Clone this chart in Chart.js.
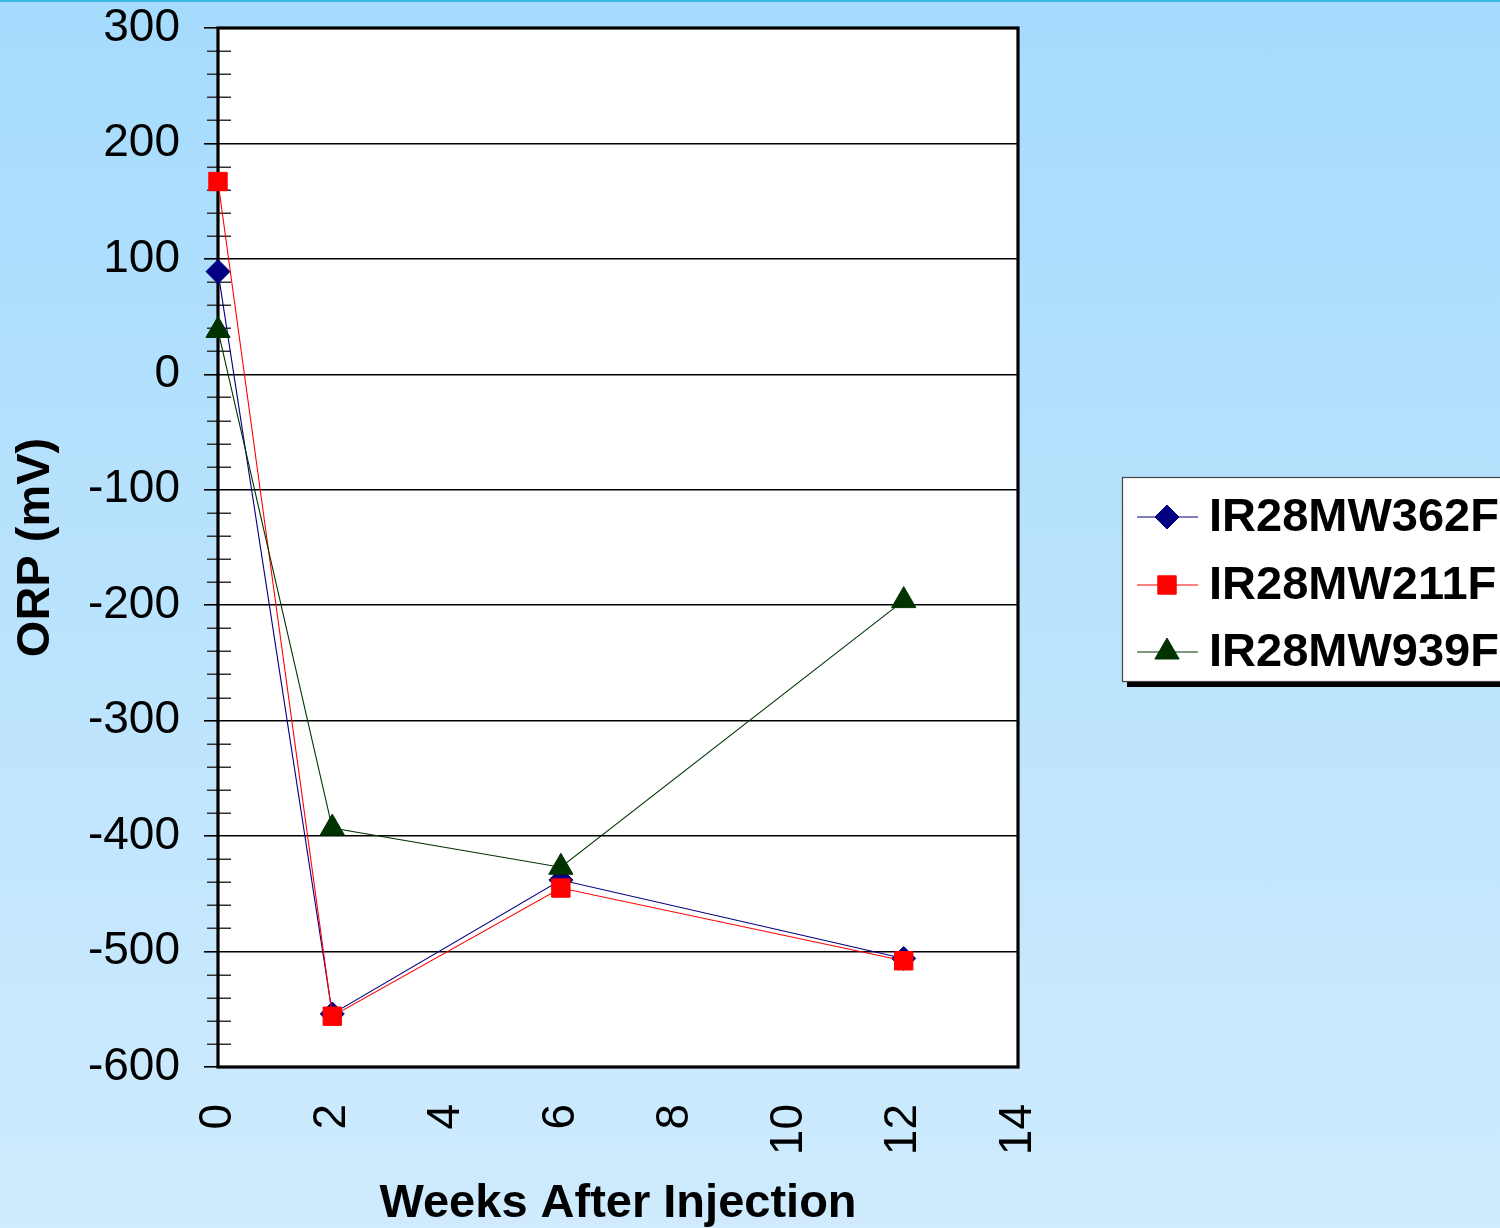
<!DOCTYPE html>
<html>
<head>
<meta charset="utf-8">
<title>ORP (mV) vs Weeks After Injection</title>
<script src="https://cdn.jsdelivr.net/npm/chart.js@4/dist/chart.umd.min.js"></script>
<style>
  html, body { margin: 0; padding: 0; }
  body {
    width: 1500px; height: 1228px; overflow: hidden;
    background: linear-gradient(to bottom, #a5dbfd 0%, #cfebfd 100%);
  }
  #wrap { position: relative; width: 1500px; height: 1228px; }
  #topline { position: absolute; left: 0; top: 0; width: 1500px; height: 2px; background: #3db6e6; }
  canvas { display: block; }
</style>
</head>
<body>
<div id="wrap"><canvas id="c" width="1500" height="1228"></canvas><div id="topline"></div></div>
<script>
// Weeks after injection at which ORP was measured
const weeks = [0, 2, 6, 12];

// ORP readings (mV) for each monitoring well
const mw362 = [89, -554, -438, -506];
const mw211 = [167, -556, -445, -508];
const mw939 = [38, -393, -427, -196];

const seriesNames = ['IR28MW362F', 'IR28MW211F', 'IR28MW939F'];

// Axis ranges and tick spacing
const yMin = -600, yMax = 300, yMajor = 100, yMinor = 20;
const xMin = 0, xMax = 14, xStep = 2;

const FONT = '"Liberation Sans", Arial, Helvetica, sans-serif';

function pts(vals) { return weeks.map((w, i) => ({ x: w, y: vals[i] })); }

// White plotting area
const plotBackground = {
  id: 'plotBackground',
  beforeDraw(chart) {
    const { ctx, chartArea: a } = chart;
    ctx.save();
    ctx.fillStyle = '#fff';
    ctx.fillRect(a.left, a.top, a.right - a.left, a.bottom - a.top);
    ctx.restore();
  }
};

// Black frame around the plotting area and the small minor ticks on the value axis
const frameAndMinorTicks = {
  id: 'frameAndMinorTicks',
  beforeDatasetsDraw(chart) {
    const { ctx, chartArea: a, scales: { y } } = chart;
    ctx.save();
    ctx.strokeStyle = '#333';
    ctx.lineWidth = 1.5;
    y.ticks.forEach(t => {
      if (t.value % yMajor !== 0) {
        const py = Math.round(y.getPixelForValue(t.value)) + 0.25;
        ctx.beginPath();
        ctx.moveTo(a.left - 11, py);
        ctx.lineTo(a.left + 13, py);
        ctx.stroke();
      }
    });
    ctx.strokeStyle = '#000';
    ctx.lineWidth = 3.2;
    ctx.strokeRect(a.left, a.top, a.right - a.left, a.bottom - a.top);
    ctx.restore();
  }
};

// Boxed legend with a drop shadow to the right of the plot
const boxLegend = {
  id: 'boxLegend',
  afterDraw(chart) {
    const { ctx } = chart;
    const bx = 1122, by = 477, bw = 420, bh = 204;
    ctx.save();
    ctx.fillStyle = '#000';
    ctx.fillRect(bx + 5, by + 6, bw, bh);
    ctx.fillStyle = '#fff';
    ctx.fillRect(bx, by, bw, bh);
    ctx.strokeStyle = '#444';
    ctx.lineWidth = 1.2;
    ctx.strokeRect(bx + 0.5, by + 0.5, bw, bh);
    const rows = [517, 585, 652];
    chart.data.datasets.forEach((ds, i) => {
      const cy = rows[i];
      ctx.strokeStyle = ds.borderColor;
      ctx.lineWidth = 1.2;
      ctx.beginPath();
      ctx.moveTo(1137, cy);
      ctx.lineTo(1198, cy);
      ctx.stroke();
      ctx.fillStyle = ds.pointBackgroundColor;
      ctx.strokeStyle = ds.pointBorderColor;
      ctx.lineWidth = ds.pointBorderWidth;
      Chart.helpers.drawPoint(ctx, {
        pointStyle: ds.pointStyle,
        radius: ds.pointRadius,
        borderWidth: ds.pointBorderWidth,
        rotation: 0
      }, 1167, cy);
      ctx.fillStyle = '#000';
      ctx.font = 'bold 47px ' + FONT;
      ctx.textAlign = 'left';
      ctx.textBaseline = 'middle';
      ctx.fillText(ds.label, 1209, cy + 1);
    });
    ctx.restore();
  }
};

function series(label, vals, color, style, radius, order) {
  return {
    label,
    data: pts(vals),
    borderColor: color,
    backgroundColor: color,
    borderWidth: 1.1,
    pointStyle: style,
    pointRadius: radius,
    pointHoverRadius: radius,
    pointBackgroundColor: color,
    pointBorderColor: color,
    pointBorderWidth: 1,
    tension: 0,
    clip: false,
    order
  };
}

new Chart(document.getElementById('c'), {
  type: 'line',
  data: {
    datasets: [
      series(seriesNames[0], mw362, '#000080', 'rectRot', 12, 2),
      series(seriesNames[1], mw211, '#ff0000', 'rect', 13, 1),
      series(seriesNames[2], mw939, '#003300', 'triangle', 14, 0)
    ]
  },
  options: {
    responsive: false,
    animation: false,
    events: [],
    layout: { padding: { left: 0, top: 28, right: 482, bottom: 0 } },
    plugins: {
      legend: { display: false },
      tooltip: { enabled: false }
    },
    scales: {
      x: {
        type: 'linear',
        min: xMin, max: xMax,
        border: { display: false },
        grid: { display: false, drawTicks: false },
        ticks: {
          stepSize: xStep,
          minRotation: 90, maxRotation: 90,
          padding: 37,
          color: '#000',
          font: { family: FONT, size: 46 }
        },
        title: {
          display: true,
          text: 'Weeks After Injection',
          color: '#000',
          font: { family: FONT, size: 47, weight: 'bold', lineHeight: 1 },
          padding: { top: 0, bottom: 0 }
        },
        afterFit(scale) {
          scale.height = 161;
          scale.paddingLeft = 0;
          scale.paddingRight = 0;
        }
      },
      y: {
        min: yMin, max: yMax,
        border: { display: false },
        grid: {
          color: c => (c.tick && c.tick.value % yMajor === 0) ? '#000' : 'rgba(0,0,0,0)',
          lineWidth: 1.6,
          drawTicks: true,
          tickLength: 14,
          tickColor: c => (c.tick && c.tick.value % yMajor === 0) ? '#000' : 'rgba(0,0,0,0)',
          tickWidth: 1.6
        },
        ticks: {
          stepSize: yMinor,
          autoSkip: false,
          padding: 24,
          color: '#000',
          font: { family: FONT, size: 46 },
          callback: v => (v % yMajor === 0 ? String(v) : '')
        },
        title: {
          display: true,
          text: 'ORP (mV)',
          color: '#000',
          font: { family: FONT, size: 47, weight: 'bold', lineHeight: 1 },
          padding: { top: 13, bottom: 0 }
        },
        afterFit(scale) {
          scale.width = 218;
          scale.paddingTop = 0;
          scale.paddingBottom = 0;
        }
      }
    }
  },
  plugins: [plotBackground, frameAndMinorTicks, boxLegend]
});
</script>
</body>
</html>
